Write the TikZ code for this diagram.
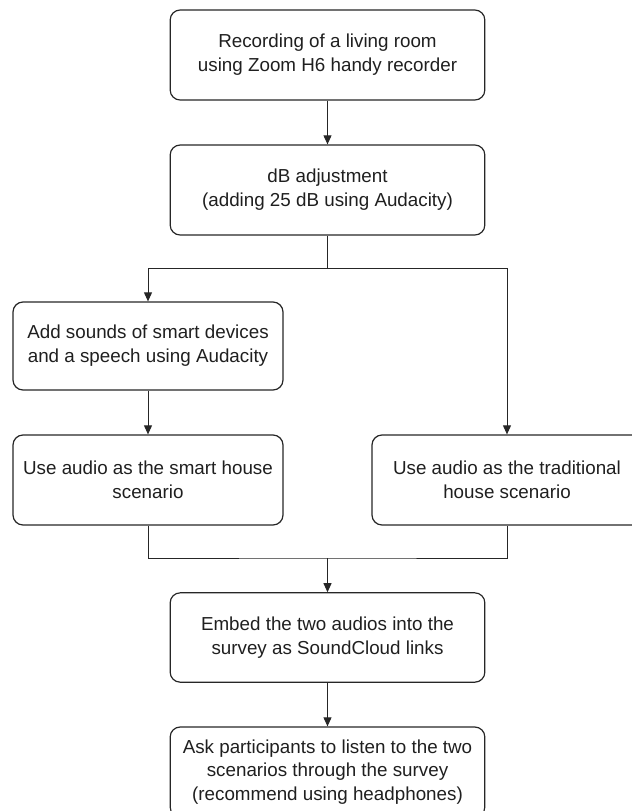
\documentclass[tikz,border=0pt]{standalone}
\usepackage{fontspec}
\setmainfont{Liberation Sans}
\usetikzlibrary{arrows.meta}
\begin{document}
\begin{tikzpicture}[x=0.75pt,y=-0.75pt,
  stepbox/.style={draw=black!85, line width=0.9pt, rounded corners=7.5pt,
    align=center, inner sep=0pt, font=\fontsize{14.1pt}{17.8pt}\selectfont,
    text=black!88},
  wide/.style={stepbox, minimum width=236pt, minimum height=67.5pt},
  side/.style={stepbox, minimum width=202.5pt, minimum height=67.5pt},
  link/.style={draw=black!85, line width=0.75pt},
  arr/.style={link, -{Triangle[length=6.8pt,width=6pt]}}]
\useasboundingbox (0,0) rectangle (632,811);

\node[wide] (rec) at (327.5,55) {Recording of a living room\\using Zoom H6 handy recorder};
\node[wide] (db) at (327.5,190) {dB adjustment\\(adding 25 dB using Audacity)};
\node[side, minimum height=66pt] (add) at (148,346) {Add sounds of smart devices\\and a speech using Audacity};
\node[side] (smart) at (148,480) {Use audio as the smart house\\scenario};
\node[side] (trad) at (507,480) {Use audio as the traditional\\house scenario};
\node[wide, minimum height=67pt] (embed) at (327.5,637.5) {Embed the two audios into the\\survey as SoundCloud links};
\node[wide] (ask) at (327.5,772) {Ask participants to listen to the two\\scenarios through the survey\\(recommend using headphones)};

\coordinate (split) at (327.5,268);
\coordinate (merge) at (327.5,558);

\draw[arr] (rec) -- (db);
\draw[link] (db.south) -- (split);
\draw[arr] (split) -| (add.north);
\draw[arr] (split) -| (trad.north);
\draw[arr] (add) -- (smart);
\draw[link] (smart.south) |- (merge) -| (trad.south);
\draw[arr] (merge) -- (embed.north);
\draw[arr] (embed) -- (ask);
\end{tikzpicture}
\end{document}
